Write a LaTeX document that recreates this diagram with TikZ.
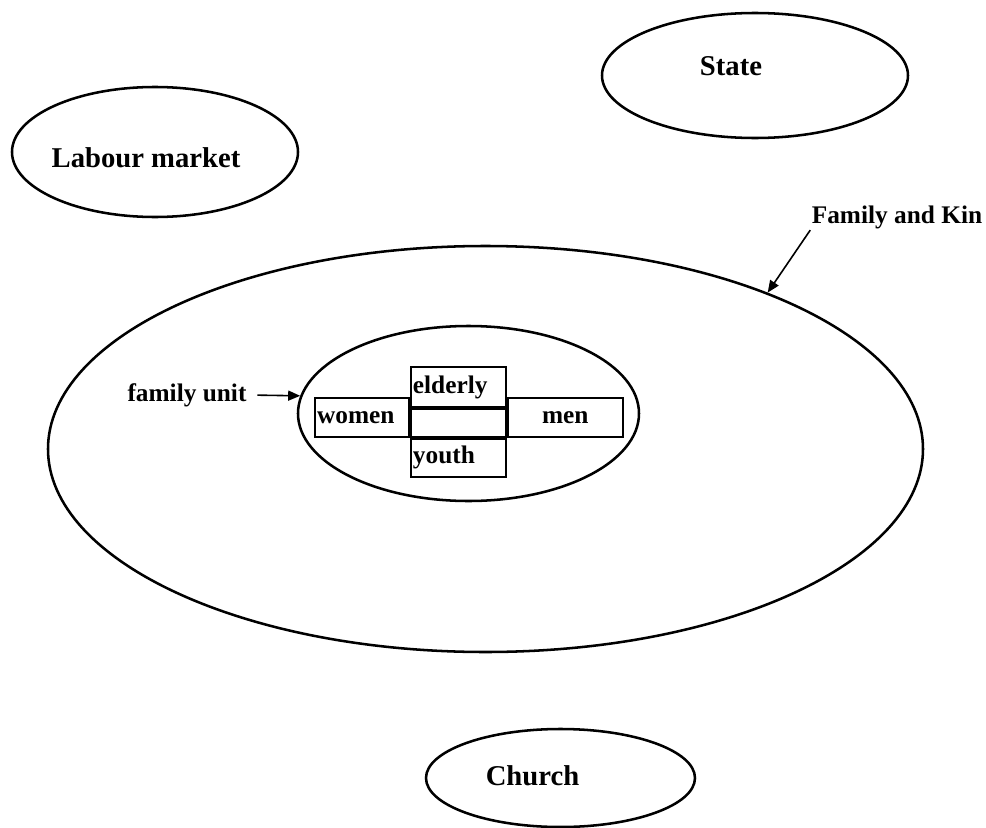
\documentclass[tikz,border=0pt]{standalone}
\usepackage{fontspec}
\setmainfont{Liberation Serif}
\usetikzlibrary{arrows.meta,positioning,shapes.geometric}
\tikzset{
  sphere/.style={ellipse, draw=black, line width=1.9pt, inner sep=0pt},
  biglabel/.style={font=\fontsize{21.5}{24}\selectfont\bfseries},
  smalllabel/.style={font=\fontsize{19}{22}\selectfont\bfseries},
  cell/.style={rectangle, draw=black, line width=1.4pt, inner sep=0pt, smalllabel},
  leftcell/.style={cell, align=left, inner xsep=1.5pt, text width=#1},
  pointer/.style={-{Triangle[length=9pt,width=7.5pt]}, line width=1.2pt},
}
\begin{document}
\begin{tikzpicture}[x=0.75pt, y=-0.75pt]
  \useasboundingbox (0,0) rectangle (986,828);
  % outer spheres
  \node[sphere, minimum width=229.5pt, minimum height=93.75pt,
    label={[biglabel, xshift=-18pt, yshift=7pt]center:State}] (state) at (755,75.5) {};
  \node[sphere, minimum width=214.5pt, minimum height=97.5pt,
    label={[biglabel, xshift=-6.75pt, yshift=-4.5pt]center:Labour market}] (labour) at (155,152) {};
  \node[sphere, minimum width=201.75pt, minimum height=73.5pt,
    label={[biglabel, xshift=-21pt, yshift=1.5pt]center:Church}] (church) at (560.5,778) {};
  % family and kin, family unit
  \node[sphere, minimum width=656.25pt, minimum height=304.5pt] (kin) at (485.5,449) {};
  \node[sphere, minimum width=255.75pt, minimum height=131.25pt] (unit) at (468.5,413.5) {};
  % members of the unit
  \node[cell, minimum width=71.25pt, minimum height=21pt, anchor=north west] (mid) at (410,408) {};
  \node[leftcell=68.25pt, minimum height=30pt, above=0pt of mid] (elderly) {elderly};
  \node[leftcell=68.25pt, minimum height=28.5pt, below=0pt of mid] (youth) {youth};
  \node[leftcell=67.5pt, minimum height=29.25pt, anchor=south east] (women) at (mid.south west) {women};
  \node[cell, minimum width=86.25pt, minimum height=29.25pt, anchor=south west] (men) at (mid.south east) {men};
  % pointers
  \node[smalllabel, inner sep=1pt] (unitlbl) at (187,395) {family unit};
  \draw[pointer, shorten <=7pt] (unitlbl.east) -- (unit.174);
  \node[smalllabel, inner sep=1pt] (kinlbl) at (897,217) {Family and Kin};
  \draw[pointer] (kinlbl.south west) -- (kin.29);
\end{tikzpicture}
\end{document}
